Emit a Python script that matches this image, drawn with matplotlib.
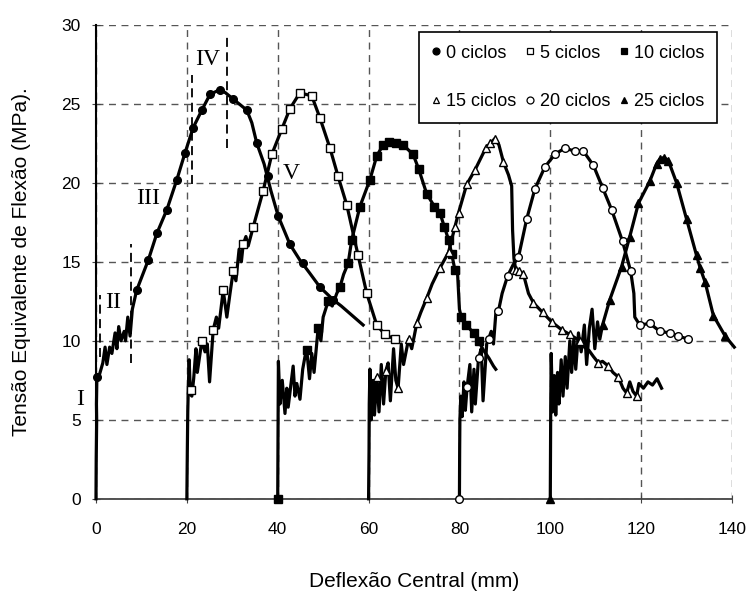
import matplotlib
matplotlib.use('Agg')
import matplotlib.pyplot as plt

plt.rcParams['font.family'] = ['Liberation Sans', 'DejaVu Sans']

# ---- dados ----
# 0 ciclos
x0 = [0, 0.05, 0.15, 0.1, 0.2, 0.5, 1.5, 2.0, 2.4, 3.0, 3.5, 4.2, 4.6, 5.0, 5.5, 6.2, 6.5, 7.0, 7.5, 8.0,
      8.95, 11.5, 13.4, 15.6, 17.8, 19.6, 21.4, 23.3, 25.1, 27.3, 28.5, 30.2, 33.2, 34.3, 35.4, 37.0, 38.5,
      40.1, 42.7, 44.9, 47.0, 49.3, 52.2, 54.0, 56.0, 58.8]
y0 = [0, 2.5, 5.0, 6.0, 7.7, 7.6, 8.6, 9.6, 8.5, 9.6, 9.2, 10.5, 9.5, 10.9, 10.0, 10.6, 10.0, 11.5, 10.3, 12.0,
      13.2, 15.1, 16.8, 18.3, 20.2, 21.9, 23.5, 24.6, 25.6, 25.9, 25.7, 25.3, 24.6, 23.8, 22.5, 21.2, 19.5,
      17.9, 16.1, 15.1, 14.3, 13.4, 12.6, 12.2, 11.7, 11.0]
mx0 = [0.2, 8.95, 11.5, 13.4, 15.6, 17.8, 19.6, 21.4, 23.3, 25.1, 27.3, 30.2, 33.2, 35.4, 37.9, 40.1, 42.7,
       45.5, 49.3, 52.2]
my0 = [7.7, 13.2, 15.1, 16.8, 18.3, 20.2, 21.9, 23.5, 24.6, 25.6, 25.9, 25.3, 24.6, 22.5, 20.4, 17.9, 16.1,
       14.9, 13.4, 12.6]

# 5 ciclos
x5 = [20, 20.1, 20.2, 20.3, 20.5, 20.8, 21.1, 21.5, 22.0, 22.3, 23.3, 24.0, 24.5, 25.0, 25.8, 26.5, 27.0,
      28.0, 28.8, 29.5, 30.2, 30.8, 31.5, 32.0, 32.4, 33.0, 33.5, 34.6, 36.8, 38.7, 40.9, 42.7, 44.9, 47.5,
      49.3, 51.5, 53.3, 55.2, 57.7, 59.6, 61.8, 63.6, 65.8, 66.6]
y5 = [0, 3.0, 5.5, 6.8, 8.8, 6.6, 6.5, 7.6, 9.5, 8.0, 10.0, 9.3, 9.8, 7.4, 10.7, 11.5, 10.8,
      13.2, 11.5, 13.0, 14.4, 13.8, 15.8, 15.0, 16.1, 16.6, 16.0, 17.2, 19.5, 21.8, 23.4, 24.7, 25.7, 25.5,
      24.1, 22.2, 20.4, 18.6, 15.4, 13.0, 11.0, 10.4, 10.1, 10.0]
mx5 = [21.0, 23.3, 25.8, 28.0, 30.2, 32.4, 34.6, 36.8, 38.7, 40.9, 42.7, 44.9, 47.5, 49.3, 51.5, 53.3, 55.2,
       57.7, 59.6, 61.8, 63.6, 65.8]
my5 = [6.9, 10.0, 10.7, 13.2, 14.4, 16.1, 17.2, 19.5, 21.8, 23.4, 24.7, 25.7, 25.5, 24.1, 22.2, 20.4, 18.6,
       15.4, 13.0, 11.0, 10.4, 10.1]

# 10 ciclos
x10 = [40, 40.05, 40.1, 40.15, 40.5, 41.0, 41.6, 42.0, 42.3, 43.4, 43.8, 44.2, 44.9, 45.5, 46.0, 46.4, 47.0,
       47.5, 48.0, 48.9, 49.5, 50.0, 51.1, 52.0, 53.0, 53.7, 54.5, 55.5, 56.3, 58.1, 60.3, 61.8, 63.2, 64.4,
       66.0, 67.6, 69.8, 71.0, 72.8, 74.5, 75.7, 76.7, 77.6, 78.3, 79.0, 79.6, 80.0, 80.4, 81.5, 83.1, 84.2,
       85.3, 86.5, 87.5, 88.0]
y10 = [0, 3.0, 6.0, 8.7, 6.0, 7.5, 5.4, 7.0, 5.8, 8.4, 6.5, 7.3, 6.3, 8.2, 9.0, 9.4, 7.6,
       9.2, 8.0, 10.8, 10.0, 11.5, 12.5, 12.2, 13.0, 13.4, 14.2, 14.9, 16.4, 18.5, 20.2, 21.7, 22.4, 22.6,
       22.5, 22.4, 21.8, 20.9, 19.3, 18.5, 18.1, 17.2, 16.4, 15.5, 14.5, 14.2, 12.0, 11.5, 11.0, 10.5, 10.0,
       9.4, 8.9, 8.4, 8.2]
mx10 = [40, 46.4, 48.9, 51.1, 53.7, 55.5, 56.3, 58.1, 60.3, 61.8, 63.2, 64.4, 66.0, 67.6, 69.8, 71.0, 72.8,
        74.5, 75.7, 76.7, 77.6, 78.3, 79.0, 80.4, 81.5, 83.1, 84.2]
my10 = [0, 9.4, 10.8, 12.5, 13.4, 14.9, 16.4, 18.5, 20.2, 21.7, 22.4, 22.6, 22.5, 22.4, 21.8, 20.9, 19.3,
        18.5, 18.1, 17.2, 16.4, 15.5, 14.5, 11.5, 11.0, 10.5, 10.0]

# 15 ciclos
x15 = [60, 60.1, 60.15, 60.3, 60.6, 61.0, 61.3, 61.8, 62.3, 62.8, 63.3, 63.8, 64.3, 64.8, 65.5, 66.0, 66.5,
       67.2, 67.7, 68.8, 69.5, 70.6, 71.5, 72.8, 74.0, 75.7, 77.6, 79.0, 79.8, 81.6, 83.4, 85.8, 86.8, 87.8,
       88.7, 89.7, 90.8, 91.5, 91.7, 92.0, 92.4, 93.2, 94.1, 95.2, 96.3, 98.3, 100.3, 102.5, 104.3, 106.5,
       107.5, 108.5, 109.5, 110.6, 111.5, 112.8, 113.8, 115.0, 116.0, 116.8, 117.5, 118.2, 119.0, 119.5,
       120.5, 121.5, 122.5, 123.5, 124.5]
y15 = [0, 3.0, 6.0, 8.2, 5.0, 7.5, 5.3, 7.7, 5.5, 8.5, 6.0, 8.1, 8.6, 6.2, 9.5, 7.5, 7.0,
       9.8, 8.5, 10.1, 9.5, 11.1, 11.8, 12.7, 13.6, 14.6, 15.6, 17.2, 18.1, 19.9, 20.8, 22.2, 22.5, 22.8,
       22.4, 21.3, 20.5, 19.8, 17.0, 15.2, 14.5, 14.4, 14.2, 13.0, 12.4, 11.8, 11.2, 10.7, 10.4, 10.0,
       9.6, 9.4, 9.0, 8.6, 8.7, 8.4, 8.0, 7.7, 7.0, 6.7, 7.4, 6.8, 6.5, 7.3,
       7.0, 7.4, 7.2, 7.6, 7.0]
mx15 = [61.8, 63.8, 66.5, 68.8, 70.6, 72.8, 75.7, 77.6, 79.0, 79.8, 81.6, 83.4, 85.8, 86.8, 87.8, 89.7,
        92.4, 93.2, 94.1, 96.3, 98.3, 100.3, 102.5, 104.3, 106.5, 110.6, 112.8, 115.0, 116.8, 119.0]
my15 = [7.7, 8.1, 7.0, 10.1, 11.1, 12.7, 14.6, 15.6, 17.2, 18.1, 19.9, 20.8, 22.2, 22.5, 22.8, 21.3,
        14.5, 14.4, 14.2, 12.4, 11.8, 11.2, 10.7, 10.4, 10.0, 8.6, 8.4, 7.7, 6.7, 6.5]

# 20 ciclos
x20 = [80, 80.05, 80.1, 80.3, 80.6, 81.0, 81.3, 81.7, 82.3, 82.7, 83.2, 83.5, 84.2, 84.8, 85.2, 86.0, 86.4,
       87.0, 87.5, 88.0, 88.6, 89.4, 90.6, 91.8, 93.0, 94.8, 96.6, 98.8, 101.0, 103.2, 105.4, 107.3, 109.5,
       111.5, 113.5, 115.9, 117.7, 118.4, 118.6, 119.7, 121.9, 124.1, 126.3, 128.2, 130.4]
y20 = [0, 3.0, 5.0, 6.5, 5.2, 7.4, 5.6, 7.1, 8.5, 5.5, 8.2, 6.0, 8.9, 9.5, 6.2, 9.8, 10.1,
       10.6, 9.8, 11.7, 11.9, 13.0, 14.1, 14.8, 15.3, 17.7, 19.6, 21.0, 21.8, 22.2, 22.0, 22.0, 21.1,
       19.7, 18.3, 16.3, 14.4, 13.0, 11.5, 11.0, 11.1, 10.6, 10.5, 10.3, 10.1]
mx20 = [80, 81.7, 84.2, 86.4, 88.6, 90.6, 93.0, 94.8, 96.6, 98.8, 101.0, 103.2, 105.4, 107.3, 109.5,
        111.5, 113.5, 115.9, 117.7, 119.7, 121.9, 124.1, 126.3, 128.2, 130.4]
my20 = [0, 7.1, 8.9, 10.1, 11.9, 14.1, 15.3, 17.7, 19.6, 21.0, 21.8, 22.2, 22.0, 22.0, 21.1,
        19.7, 18.3, 16.3, 14.4, 11.0, 11.1, 10.6, 10.5, 10.3, 10.1]

# 25 ciclos
x25 = [100, 100.05, 100.1, 100.2, 100.5, 100.9, 101.2, 101.6, 101.9, 102.4, 102.8, 103.3, 103.7, 104.3,
       104.7, 105.2, 105.6, 106.2, 106.8, 107.5, 108.0, 108.6, 109.2, 109.8, 110.4, 110.9, 111.5, 113.1,
       115.7, 117.5, 119.4, 121.9, 123.4, 124.1, 125.0, 126.0, 127.8, 130.0, 132.2, 133.0, 134.1, 135.9,
       138.5, 140.5]
y25 = [0, 3.0, 6.0, 9.2, 5.5, 7.8, 5.3, 8.0, 6.0, 8.8, 6.5, 9.0, 7.0, 10.0,
       8.0, 10.2, 8.2, 10.5, 9.3, 11.0, 8.5, 10.8, 12.0, 9.5, 11.2, 10.1, 11.0, 12.6,
       14.7, 16.6, 18.7, 20.1, 21.2, 21.5, 21.6, 21.4, 20.0, 17.7, 15.4, 14.6, 13.7, 11.6,
       10.3, 9.6]
mx25 = [100, 111.5, 113.1, 115.7, 117.5, 119.4, 121.9, 123.4, 124.1, 125.0, 126.0, 127.8, 130.0, 132.2,
        133.0, 134.1, 135.9, 138.5]
my25 = [0, 11.0, 12.6, 14.7, 16.6, 18.7, 20.1, 21.2, 21.5, 21.6, 21.4, 20.0, 17.7, 15.4,
        14.6, 13.7, 11.6, 10.3]

# fases (linhas tracejadas e numerais)
fase_x = [0.9, 7.8, 21.1, 28.8]
fase_y0 = [9.0, 8.6, 19.9, 22.2]
fase_y1 = [12.9, 16.1, 26.8, 29.2]
fase_txt = ['I', 'II', 'III', 'IV', 'V']
fase_tx = [-3.5, 3.7, 11.5, 24.5, 42.9]
fase_ty = [6.3, 12.4, 19.0, 27.8, 20.6]

series = [
    ('0 ciclos', x0, y0, mx0, my0, 'o', 'black'),
    ('5 ciclos', x5, y5, mx5, my5, 's', 'white'),
    ('10 ciclos', x10, y10, mx10, my10, 's', 'black'),
    ('15 ciclos', x15, y15, mx15, my15, '^', 'white'),
    ('20 ciclos', x20, y20, mx20, my20, 'o', 'white'),
    ('25 ciclos', x25, y25, mx25, my25, '^', 'black'),
]

fig = plt.figure(figsize=(7.5, 5.91), dpi=100)
ax = fig.add_axes([0.128, 0.156, 0.848, 0.802])

handles = []
for nome, x, y, mx, my, mk, fc in series:
    ax.plot(x, y, color='black', lw=2.3, clip_on=False, zorder=3)
    ax.plot(mx, my, ls='none', marker=mk, ms=5.5, mfc=fc, mec='black', mew=1.0, clip_on=False, zorder=4)
    h, = ax.plot([], [], ls='none', marker=mk, ms=5, mfc=fc, mec='black', mew=0.9, label=nome)
    handles.append(h)

for i in range(len(fase_x)):
    ax.plot([fase_x[i], fase_x[i]], [fase_y0[i], fase_y1[i]], color='black', lw=1.3,
            ls=(0, (5, 3)), zorder=2)
for i in range(len(fase_txt)):
    ax.text(fase_tx[i], fase_ty[i], fase_txt[i], family=['Liberation Serif', 'DejaVu Serif'],
            fontsize=17, ha='center', va='center', zorder=5)

ax.set_xlim(0, 140)
ax.set_ylim(0, 30)
ax.set_xticks(range(0, 141, 20))
ax.set_yticks(range(0, 31, 5))
ax.grid(True, color='#555555', ls=(0, (5, 4)), lw=1.0)
ax.set_axisbelow(True)
for s in ['top', 'right']:
    ax.spines[s].set_visible(False)
ax.spines['left'].set_linewidth(1.5)
ax.spines['bottom'].set_color('#444444')
ax.spines['bottom'].set_linewidth(1.3)
ax.tick_params(axis='both', labelsize=12.5, direction='inout', length=6, color='#444444')
ax.tick_params(axis='x', pad=14)
ax.tick_params(axis='y', pad=8)

ax.set_xlabel('Deflexão Central (mm)', fontsize=15, labelpad=25)
ax.set_ylabel('Tensão Equivalente de Flexão (MPa).', fontsize=15, labelpad=22)

order = [0, 3, 1, 4, 2, 5]
leg = ax.legend([handles[i] for i in order], [handles[i].get_label() for i in order],
                ncol=3, loc='upper right', bbox_to_anchor=(0.976, 0.985), fontsize=13,
                fancybox=False, edgecolor='black', framealpha=1, handlelength=0.5,
                handletextpad=0.3, columnspacing=0.5, labelspacing=1.75, borderpad=0.7,
                borderaxespad=0)
leg.get_frame().set_linewidth(1.2)

fig.savefig('out.png', dpi=100)
plt.close()
